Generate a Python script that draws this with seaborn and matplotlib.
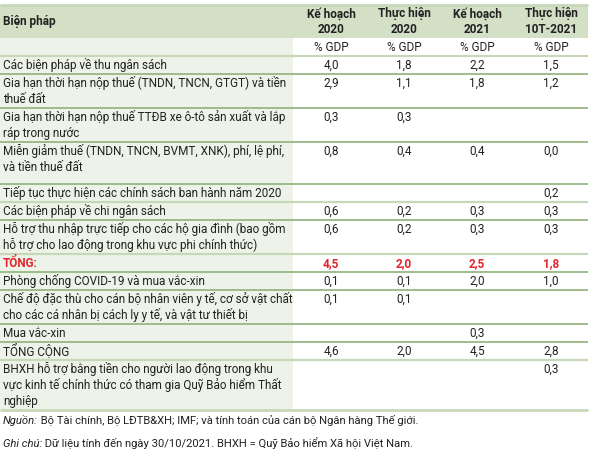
import numpy as np
import matplotlib.pyplot as plt
from matplotlib.patches import Rectangle
import seaborn as sns

sns.set_theme(style="white")
plt.rcParams['font.family'] = ['Roboto', 'DejaVu Sans']

# Table content
header_first = "Biện pháp"
columns = ["Kế hoạch\n2020", "Thực hiện\n2020", "Kế hoạch\n2021", "Thực hiện\n10T-2021"]
unit = "% GDP"
measures = [
    "Các biện pháp về thu ngân sách",
    "Gia hạn thời hạn nộp thuế (TNDN, TNCN, GTGT) và tiền\nthuế đất",
    "Gia hạn thời hạn nộp thuế TTĐB xe ô-tô sản xuất và lắp\nráp trong nước",
    "Miễn giảm thuế (TNDN, TNCN, BVMT, XNK), phí, lệ phí,\nvà tiền thuế đất",
    "Tiếp tục thực hiện các chính sách ban hành năm 2020",
    "Các biện pháp về chi ngân sách",
    "Hỗ trợ thu nhập trực tiếp cho các hộ gia đình (bao gồm\nhỗ trợ cho lao động trong khu vực phi chính thức)",
    "TỔNG:",
    "Phòng chống COVID-19 và mua vắc-xin",
    "Chế độ đặc thù cho cán bộ nhân viên y tế, cơ sở vật chất\ncho các cá nhân bị cách ly y tế, và vật tư thiết bị",
    "Mua vắc-xin",
    "TỔNG CỘNG",
    "BHXH hỗ trợ bằng tiền cho người lao động trong khu\nvực kinh tế chính thức có tham gia Quỹ Bảo hiểm Thất\nnghiệp",
]
ke_hoach_2020 = [4.0, 2.9, 0.3, 0.8, None, 0.6, 0.6, 4.5, 0.1, 0.1, None, 4.6, None]
thuc_hien_2020 = [1.8, 1.1, 0.3, 0.4, None, 0.2, 0.2, 2.0, 0.1, 0.1, None, 2.0, None]
ke_hoach_2021 = [2.2, 1.8, None, 0.4, None, 0.3, 0.3, 2.5, 2.0, None, 0.3, 4.5, None]
thuc_hien_10t_2021 = [1.5, 1.2, None, 0.0, 0.2, 0.3, 0.3, 1.8, 1.0, None, None, 2.8, 0.3]
highlight_row = "TỔNG:"

source_label = "Nguồn:"
source_text = " Bộ Tài chính, Bộ LĐTB&XH; IMF; và tính toán của cán bộ Ngân hàng Thế giới."
note_label = "Ghi chú:"
note_text = " Dữ liệu tính đến ngày 30/10/2021. BHXH = Quỹ Bảo hiểm Xã hội Việt Nam."

# Style / layout
header_bg = "#d3e0c6"
first_col_bg = "#edf3e8"
line_dark = "#8fb27a"
line_light = "#c6d8b9"
text_color = "#222222"
red = "#e2242c"
fs = 8.5
fs_note = 8.1
line_h = 16
extra_pad = {3: 8}
# line under each body row
row_lines = ["dark", "dark", "dark", "dark", "light", "dark", "light", "dark",
             "dark", "dark", "dark", "light", "light"]

W, H = 600, 459
fig = plt.figure(figsize=(6.0, 4.59), dpi=100)
ax = fig.add_axes([0, 0, 1, 1])
ax.set_xlim(0, W)
ax.set_ylim(H, 0)
ax.axis("off")

x_left, x_split, x_right = 0, 293, 588
col_centers = [331, 404, 477, 551]

def fmt(v):
    return "" if v is None else f"{v:.1f}".replace(".", ",")

def box(x0, x1, y0, y1, color):
    ax.add_patch(Rectangle((x0, y0), x1 - x0, y1 - y0, facecolor=color,
                           edgecolor="none", lw=0, zorder=0.5))

# header
top = 5
head_h = 33
box(x_left, x_right, top, top + head_h, header_bg)
ax.hlines(top, x_left, x_right, color=line_light, lw=2)
ax.text(3, top + head_h / 2, header_first, fontsize=fs, fontweight="bold",
        color=text_color, va="center", ha="left")
for cx, c in zip(col_centers, columns):
    ax.text(cx, top + head_h / 2, c, fontsize=fs, fontweight="bold", color=text_color,
            va="center", ha="center", linespacing=1.25)

# unit row
y = top + head_h
unit_h = 18
box(x_left, x_split, y, y + unit_h, first_col_bg)
for cx in col_centers:
    ax.text(cx, y + unit_h / 2 + 0.5, unit, fontsize=fs, color=text_color, va="center", ha="center")
y += unit_h
ax.hlines(y, x_left, x_right, color=line_light, lw=1.5)

# body
series = [ke_hoach_2020, thuc_hien_2020, ke_hoach_2021, thuc_hien_10t_2021]
for i, label in enumerate(measures):
    lines = label.split("\n")
    h = 18 + line_h * (len(lines) - 1) + extra_pad.get(i, 0)
    box(x_left, x_split, y, y + h, first_col_bg)
    is_hl = label == highlight_row
    col = red if is_hl else text_color
    wt = "bold" if is_hl else "normal"
    for k, ln in enumerate(lines):
        ax.text(3, y + 9.5 + line_h * k, ln, fontsize=fs, color=col, fontweight=wt,
                va="center", ha="left")
    for cx, s in zip(col_centers, series):
        ax.text(cx, y + 9.5, fmt(s[i]), fontsize=fs, color=col, fontweight=wt,
                va="center", ha="center")
    y += h
    if row_lines[i] == "dark":
        ax.hlines(y, x_left, x_right, color=line_dark, lw=1.2)
    else:
        ax.hlines(y, x_left, x_right, color=line_light, lw=2 if i == len(measures) - 1 else 1.6)

# footnotes
for yy, lab, txt in [(y + 11, source_label, source_text), (y + 34, note_label, note_text)]:
    t = ax.text(3, yy, lab, fontsize=fs_note, fontstyle="italic", color=text_color,
                va="center", ha="left")
    ax.annotate(txt, xy=(1, 0), xycoords=t, fontsize=fs_note, color=text_color,
                va="bottom", ha="left")

fig.savefig("out.png", dpi=100)
